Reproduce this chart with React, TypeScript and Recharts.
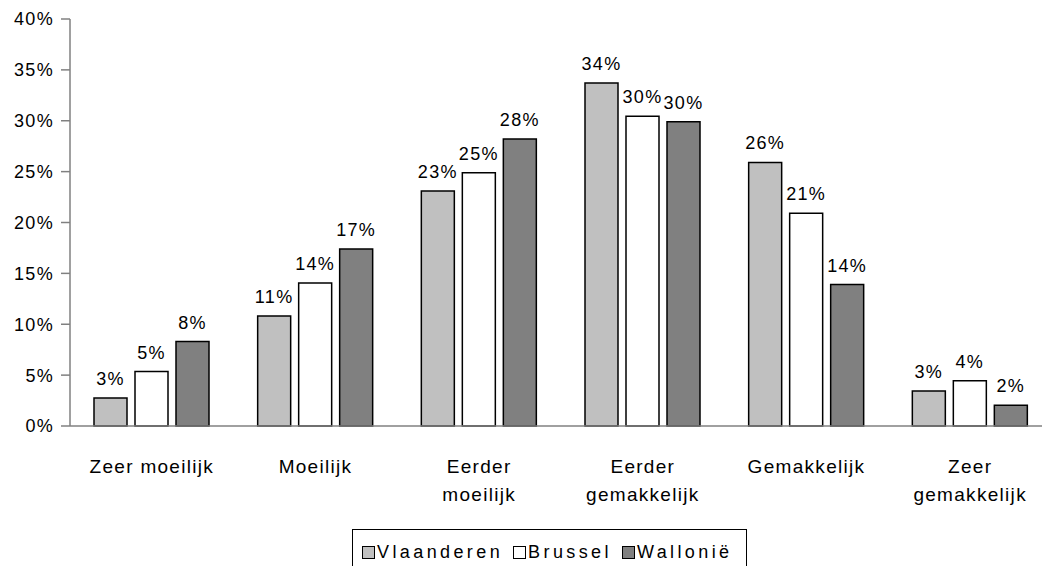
import React from 'react';
import { BarChart, Bar, XAxis, YAxis, LabelList } from 'recharts';

const categories = [
  'Zeer moeilijk',
  'Moeilijk',
  'Eerder\nmoeilijk',
  'Eerder\ngemakkelijk',
  'Gemakkelijk',
  'Zeer\ngemakkelijk',
];
const vlaanderen = [2.75, 10.8, 23.1, 33.7, 25.9, 3.45];
const brussel = [5.35, 14.05, 24.9, 30.45, 20.9, 4.45];
const wallonie = [8.3, 17.4, 28.2, 29.9, 13.9, 2.05];
const yTicks = [0, 5, 10, 15, 20, 25, 30, 35, 40];

const seriesNames = ['Vlaanderen', 'Brussel', 'Wallonië'];
const seriesKeys = ['v', 'b', 'w'];
const seriesColors = ['#C0C0C0', '#FFFFFF', '#808080'];

const data = categories.map((c, i) => ({
  name: c,
  v: vlaanderen[i],
  b: brussel[i],
  w: wallonie[i],
}));

const FONT = '"Liberation Sans", Arial, Helvetica, sans-serif';

const CategoryTick = (props: any) => {
  const { x, y, payload } = props;
  const lines = String(payload.value).split('\n');
  return (
    <g>
      {lines.map((l, i) => (
        <text
          key={i}
          x={x}
          y={y + 47 + i * 28}
          textAnchor="middle"
          fontSize={19}
          fontFamily={FONT}
          letterSpacing={1.3}
          fill="#000"
        >
          {l}
        </text>
      ))}
    </g>
  );
};

const fmt = (v: any) => `${Math.round(Number(v))}%`;

export default function App() {
  return (
    <div
      style={{
        position: 'absolute',
        left: 0,
        top: 0,
        width: 1042,
        height: 566,
        overflow: 'hidden',
        background: '#fff',
        fontFamily: FONT,
      }}
    >
      <BarChart
        width={1052}
        height={566}
        data={data}
        margin={{ top: 19, right: 0, left: 0, bottom: 0 }}
        barGap={8}
        barSize={33}
      >
        <XAxis
          dataKey="name"
          height={140}
          tickLine={false}
          tickSize={0}
          tickMargin={0}
          axisLine={{ stroke: '#808080', strokeWidth: 1.5 }}
          tick={<CategoryTick />}
          interval={0}
        />
        <YAxis
          width={70}
          domain={[0, 40]}
          ticks={yTicks}
          interval={0}
          tickFormatter={(v: number) => `${v}%`}
          axisLine={{ stroke: '#808080', strokeWidth: 1.5 }}
          tickLine={{ stroke: '#808080', strokeWidth: 1.5 }}
          tickSize={9}
          tickMargin={7}
          tick={{ fill: '#000', fontSize: 18, fontFamily: FONT, letterSpacing: 1.3 }}
        />
        {seriesKeys.map((k, i) => (
          <Bar
            key={k}
            dataKey={k}
            name={seriesNames[i]}
            fill={seriesColors[i]}
            stroke="#000"
            strokeWidth={1.5}
            isAnimationActive={false}
          >
            <LabelList
              dataKey={k}
              position="top"
              offset={13}
              formatter={fmt}
              style={{ fill: '#000', fontSize: 18, fontFamily: FONT, letterSpacing: 1.3 }}
            />
          </Bar>
        ))}
      </BarChart>
      <div
        style={{
          position: 'absolute',
          left: 352,
          top: 529,
          width: 395,
          height: 60,
          border: '1px solid #000',
          boxSizing: 'border-box',
          display: 'flex',
          alignItems: 'flex-start',
          paddingLeft: 9,
          paddingTop: 12,
          fontSize: 18,
          fontFamily: FONT,
          letterSpacing: 3.4,
          lineHeight: '20px',
          color: '#000',
        }}
      >
        {seriesNames.map((n, i) => (
          <div key={n} style={{ display: 'flex', alignItems: 'center', marginRight: 10 }}>
            <span
              style={{
                display: 'inline-block',
                width: 11,
                height: 11,
                border: '1px solid #000',
                background: seriesColors[i],
                marginRight: 2,
              }}
            />
            <span>{n}</span>
          </div>
        ))}
      </div>
    </div>
  );
}
